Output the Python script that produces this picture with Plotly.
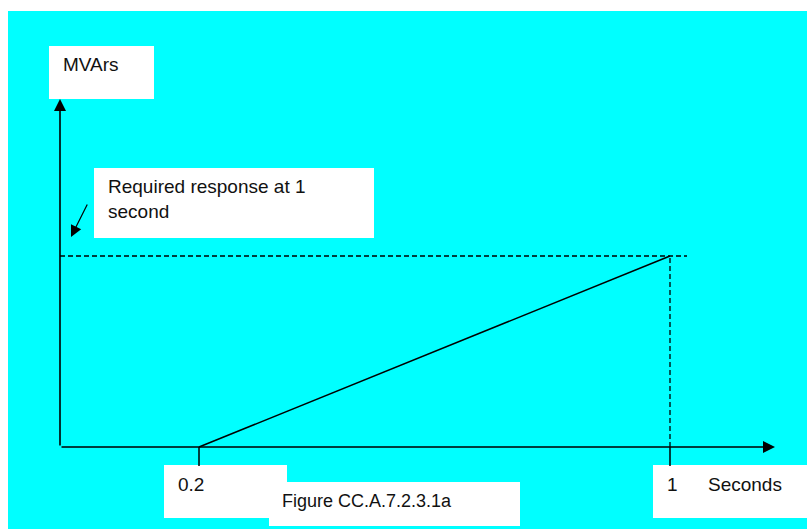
import plotly.graph_objects as go

# ---- data ----
time_s = [0.2, 1.0]            # ramp start / required-response time
response_pu = [0.0, 1.0]       # reactive power (per unit of required response)
tick_values = [0.2, 1.0]
tick_labels = ["0.2", "1"]
y_axis_title = "MVArs"
x_axis_title = "Seconds"
note_text = "Required response at 1<br>second"
caption = "Figure CC.A.7.2.3.1a"

# ---- geometry (pixels) ----
W, H = 807, 529
T02_PX, T1_PX = 199, 670      # x pixel of t=0.2 and t=1
Y0_PX, Y1_PX = 447, 256       # y pixel of response 0 and 1
px_per_s = (T1_PX - T02_PX) / (tick_values[1] - tick_values[0])
px_per_u = (Y0_PX - Y1_PX) / (response_pu[1] - response_pu[0])
t_at_px0 = tick_values[0] - T02_PX / px_per_s
u_at_px0 = Y0_PX / px_per_u


def tx(x_px):
    return t_at_px0 + x_px / px_per_s


def uy(y_px):
    return u_at_px0 - y_px / px_per_u


def pxp(x):
    return x / W


def pyp(y):
    return 1 - y / H


CYAN = "#00FFFF"
FONT = "Liberation Sans, Arial, sans-serif"

fig = go.Figure()

# ramp
fig.add_trace(go.Scatter(x=time_s, y=response_pu, mode="lines",
                         line=dict(color="black", width=1.5),
                         hoverinfo="skip", showlegend=False))

shapes = []
# cyan background
shapes.append(dict(type="rect", xref="paper", yref="paper",
                   x0=pxp(8), x1=pxp(W), y0=pyp(H), y1=pyp(11),
                   fillcolor=CYAN, line=dict(width=0), layer="below"))
# white boxes
for (x0, y0, x1, y1) in [(49, 46, 154, 99), (94, 168, 374, 238),
                         (164, 465, 287, 518), (269, 482, 520, 526),
                         (653, 465, 807, 518)]:
    shapes.append(dict(type="rect", xref="paper", yref="paper",
                       x0=pxp(x0), x1=pxp(x1), y0=pyp(y1), y1=pyp(y0),
                       fillcolor="white", line=dict(width=0), layer="below"))

axis_origin_t = tx(60)
# dashed guides
shapes.append(dict(type="line", xref="x", yref="y",
                   x0=axis_origin_t, x1=time_s[1] + 17 / px_per_s,
                   y0=response_pu[1], y1=response_pu[1],
                   line=dict(color="black", width=1.3, dash="5px,3px")))
shapes.append(dict(type="line", xref="x", yref="y",
                   x0=time_s[1], x1=time_s[1],
                   y0=response_pu[0], y1=response_pu[1],
                   line=dict(color="black", width=1.3, dash="5px,3px")))
# tick marks
for tv in tick_values:
    shapes.append(dict(type="line", xref="x", yref="y",
                       x0=tv, x1=tv, y0=response_pu[0],
                       y1=response_pu[0] - 19 / px_per_u,
                       line=dict(color="black", width=1.5)))

annotations = []
# axes with arrows
annotations.append(dict(x=axis_origin_t, y=uy(99), ax=axis_origin_t, ay=response_pu[0],
                        xref="x", yref="y", axref="x", ayref="y", text="",
                        showarrow=True, arrowhead=2, arrowsize=1.5, arrowwidth=1.6,
                        arrowcolor="black"))
annotations.append(dict(x=tx(775), y=response_pu[0], ax=axis_origin_t, ay=response_pu[0],
                        xref="x", yref="y", axref="x", ayref="y", text="",
                        showarrow=True, arrowhead=2, arrowsize=1.5, arrowwidth=1.6,
                        arrowcolor="black"))
# pointer arrow for note
annotations.append(dict(x=tx(71), y=uy(237), ax=tx(88), ay=uy(203),
                        xref="x", yref="y", axref="x", ayref="y", text="",
                        showarrow=True, arrowhead=2, arrowsize=1.9, arrowwidth=1.2,
                        arrowcolor="black"))


def label(text, x, y, size=19):
    annotations.append(dict(x=pxp(x), y=pyp(y), xref="paper", yref="paper",
                            text=text, showarrow=False, xanchor="left",
                            yanchor="middle", align="left",
                            font=dict(family=FONT, size=size, color="#111111")))


label(y_axis_title, 61, 65)
label(note_text, 106, 199)
label(tick_labels[0], 176, 484)
label(tick_labels[1], 665, 484)
label(x_axis_title, 706, 484)
label(caption, 280, 501, size=18)

fig.update_layout(
    width=W, height=H, autosize=False,
    margin=dict(l=0, r=0, t=0, b=0, pad=0),
    paper_bgcolor="white", plot_bgcolor="rgba(0,0,0,0)",
    xaxis=dict(range=[tx(0), tx(W)], visible=False, fixedrange=True),
    yaxis=dict(range=[uy(H), uy(0)], visible=False, fixedrange=True),
    shapes=shapes, annotations=annotations, showlegend=False,
)

fig.write_html("out.html", config={"displayModeBar": False},
               post_script="document.body.style.margin='0';document.body.style.overflow='hidden';")
